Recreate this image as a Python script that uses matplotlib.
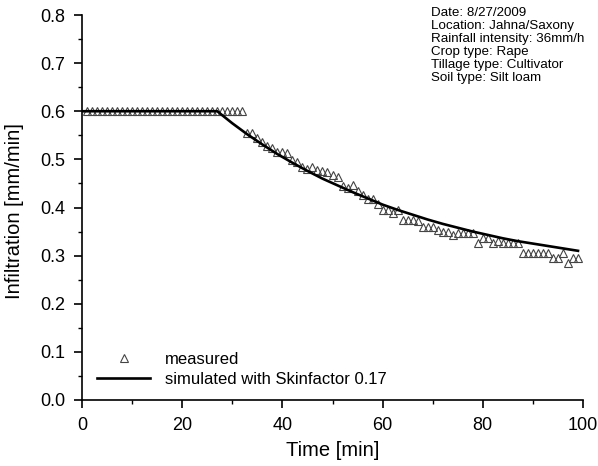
import matplotlib
matplotlib.use('Agg')
import matplotlib.pyplot as plt

plt.rcParams['font.family'] = ['Liberation Sans', 'DejaVu Sans']

# measured infiltration, one reading per minute (t = 1..99)
t_meas = list(range(1, 100))
v_meas = [0.60] * 32 + [
    0.555, 0.555, 0.545, 0.537, 0.527, 0.523, 0.516, 0.516, 0.513, 0.499,   # 33-42
    0.495, 0.485, 0.480, 0.484, 0.478, 0.475, 0.474, 0.468, 0.464, 0.445,   # 43-52
    0.440, 0.446, 0.435, 0.426, 0.418, 0.418, 0.408, 0.395, 0.395, 0.388,   # 53-62
    0.395, 0.374, 0.374, 0.374, 0.371, 0.360, 0.360, 0.360, 0.353, 0.350,   # 63-72
    0.350, 0.343, 0.347, 0.347, 0.347, 0.347, 0.326, 0.336, 0.336, 0.326,   # 73-82
    0.330, 0.326, 0.326, 0.326, 0.326, 0.305, 0.305, 0.305, 0.305, 0.305,   # 83-92
    0.305, 0.295, 0.295, 0.305, 0.284, 0.295, 0.295,                         # 93-99
]

# simulated curve
t_sim = [0, 27, 30, 33, 36, 39, 42, 45, 48, 51, 54, 57, 60, 63, 66, 69, 72,
         75, 78, 81, 84, 87, 90, 93, 96, 99]
v_sim = [0.600, 0.600, 0.575, 0.552, 0.531, 0.511, 0.493, 0.476, 0.460, 0.446,
         0.432, 0.419, 0.406, 0.395, 0.385, 0.375, 0.366, 0.358, 0.350, 0.343,
         0.336, 0.330, 0.325, 0.320, 0.315, 0.310]

info_lines = ['Date: 8/27/2009', 'Location: Jahna/Saxony',
              'Rainfall intensity: 36mm/h', 'Crop type: Rape',
              'Tillage type: Cultivator', 'Soil type: Silt loam']

fig = plt.figure(figsize=(5.98, 4.66), dpi=100)
ax = fig.add_axes([82 / 598, 1 - 400 / 466, 501 / 598, 385 / 466])

ax.plot(t_meas, v_meas, linestyle='none', marker='^', markersize=6,
        mfc='none', mec='#444444', mew=0.8, label='measured')
ax.plot(t_sim, v_sim, color='black', linewidth=1.9,
        label='simulated with Skinfactor 0.17')

ax.set_xlim(0, 100)
ax.set_ylim(0, 0.8)
ax.set_xticks(range(0, 101, 20))
ax.set_xticks(range(10, 100, 20), minor=True)
ax.set_yticks([i / 10 for i in range(9)])
ax.set_yticks([i / 20 for i in range(1, 16, 2)], minor=True)
ax.set_yticklabels(['%.1f' % (i / 10) for i in range(9)])

for side in ['top', 'right']:
    ax.spines[side].set_visible(False)
for side in ['left', 'bottom']:
    ax.spines[side].set_linewidth(1.2)

ax.tick_params(which='major', direction='out', length=5.5, width=1.2,
               labelsize=13, pad=6.5)
ax.tick_params(which='minor', direction='out', length=3, width=1.0)

ax.set_xlabel('Time [min]', fontsize=14.5)
ax.set_ylabel('Infiltration [mm/min]', fontsize=14.5)
ax.xaxis.set_label_coords(0.5, -50 / 385, transform=ax.transAxes)
ax.yaxis.set_label_coords(-67 / 501, 0.5 - 4 / 385, transform=ax.transAxes)
ax.xaxis.label.set_va('center')
ax.yaxis.label.set_va('center')

ax.legend(loc='lower left', bbox_to_anchor=(0.03, 0.035), frameon=False,
          fontsize=12, handlelength=3.2, handletextpad=0.9, labelspacing=0.3,
          borderaxespad=0, borderpad=0, numpoints=1)

for i, line in enumerate(info_lines):
    fig.text(431 / 598, 1 - (13.5 + i * 12.8) / 466, line, fontsize=9.6,
             va='center', ha='left')

fig.savefig('out.png', dpi=100)
